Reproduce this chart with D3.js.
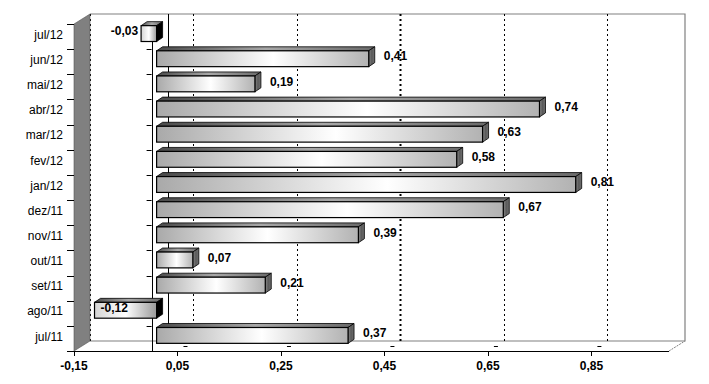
<!DOCTYPE html>
<html>
<head>
<meta charset="utf-8">
<script src="https://cdn.jsdelivr.net/npm/d3@7"></script>
<style>
  html, body { margin: 0; padding: 0; background: #fff; }
  svg { display: block; font-family: Arial, "Liberation Sans", sans-serif; }
</style>
</head>
<body>
<svg id="chart" width="709" height="384"></svg>
<script>
// ---- data ----
const categories = ["jul/11","ago/11","set/11","out/11","nov/11","dez/11","jan/12","fev/12","mar/12","abr/12","mai/12","jun/12","jul/12"];
const values     = [0.37, -0.12, 0.21, 0.07, 0.39, 0.67, 0.81, 0.58, 0.63, 0.74, 0.19, 0.41, -0.03];
const xTicks     = [-0.15, 0.05, 0.25, 0.45, 0.65, 0.85];
const xDomain    = [-0.15, 1.0];

(function () {
const fmt = v => v.toFixed(2).replace(".", ",");

const svg = d3.select("#chart");
const defs = svg.append("defs");

// layout
const pL = 74, pR = 669, pT = 24, pB = 351;
const depth = { dx: 16, dy: -10 };          // back wall offset
const barOff = { dx: 5, dy: -3 };            // bar front plane offset
const barDepth = { dx: 6, dy: -4 };          // bar thickness in depth

const x = d3.scaleLinear().domain(xDomain).range([pL, pR]);
const y = d3.scaleBand().domain(categories.slice().reverse()).range([pT, pB]).paddingInner(0).paddingOuter(0);
const bw = y.bandwidth();
const barH = bw * 0.63;

// gradients
function grad(id, stops) {
  const g = defs.append("linearGradient").attr("id", id)
    .attr("x1", "0%").attr("y1", "0%").attr("x2", "100%").attr("y2", "0%");
  stops.forEach(s => g.append("stop").attr("offset", s[0]).attr("stop-color", s[1]));
}
grad("front", [[0, "#a9a9a9"], [0.55, "#ffffff"], [1, "#b2b2b2"]]);
grad("frontNeg", [[0, "#d4d4d4"], [0.5, "#ffffff"], [1, "#9a9a9a"]]);
grad("topf", [[0, "#4a4a4a"], [0.5, "#a8a8a8"], [1, "#6a6a6a"]]);
grad("side", [[0, "#8a8a8a"], [0.5, "#5a5a5a"], [1, "#707070"]]);

// ---- back wall ----
const bx0 = pL + depth.dx, bx1 = pR + depth.dx, by0 = pT + depth.dy, by1 = pB + depth.dy;
svg.append("rect").attr("x", bx0).attr("y", by0).attr("width", bx1 - bx0).attr("height", by1 - by0)
  .attr("fill", "#ffffff");
svg.append("path")
  .attr("d", `M${bx0},${by0}H${bx1}V${by1}H${bx0}`)
  .attr("fill", "none").attr("stroke", "#808080").attr("stroke-width", 1.2);

// gridlines on back wall
svg.append("g").selectAll("line").data(xTicks).join("line")
  .attr("x1", d => Math.round(x(d) + depth.dx) + 0.5).attr("x2", d => Math.round(x(d) + depth.dx) + 0.5)
  .attr("y1", by0).attr("y2", by1)
  .attr("stroke", "#000").attr("stroke-width", d => d === 0.45 ? 2 : 1)
  .attr("stroke-dasharray", "2,3");

// back zero line
svg.append("line")
  .attr("x1", Math.round(x(0) + depth.dx) + 0.5).attr("x2", Math.round(x(0) + depth.dx) + 0.5)
  .attr("y1", by0).attr("y2", by1).attr("stroke", "#000");

// floor diagonal at right
svg.append("line").attr("x1", pR).attr("y1", pB).attr("x2", bx1).attr("y2", by1)
  .attr("stroke", "#808080").attr("stroke-dasharray", "2,1");

// floor small marks
svg.append("g").selectAll("line").data(xTicks.slice(1)).join("line")
  .attr("x1", d => x(d) + 6).attr("x2", d => x(d) + 10)
  .attr("y1", pB - 4.5).attr("y2", pB - 4.5)
  .attr("stroke", "#000");

// left wall
svg.append("path")
  .attr("d", `M${pL},${pT}L${bx0},${by0}L${bx0},${by1}L${pL},${pB}Z`)
  .attr("fill", "#808080").attr("stroke", "#555").attr("stroke-width", 0.6);

// front zero line
svg.append("line")
  .attr("x1", Math.round(x(0)) + 0.5).attr("x2", Math.round(x(0)) + 0.5)
  .attr("y1", pT).attr("y2", pB).attr("stroke", "#000");

// category boundary ticks
const bounds = d3.range(categories.length + 1).map(i => pT + i * bw);
svg.append("g").selectAll("line").data(bounds).join("line")
  .attr("x1", pL - 7).attr("x2", pL).attr("y1", d => Math.round(d) + 0.5).attr("y2", d => Math.round(d) + 0.5)
  .attr("stroke", "#000");
svg.append("g").selectAll("line").data(bounds.slice(1)).join("line")
  .attr("x1", x(0) - 5).attr("x2", x(0)).attr("y1", d => Math.round(d) + 0.5).attr("y2", d => Math.round(d) + 0.5)
  .attr("stroke", "#000");

// front axis
svg.append("line").attr("x1", pL).attr("x2", pR).attr("y1", pB + 0.5).attr("y2", pB + 0.5)
  .attr("stroke", "#000");
svg.append("g").selectAll("line").data(xTicks).join("line")
  .attr("x1", d => Math.round(x(d)) + 0.5).attr("x2", d => Math.round(x(d)) + 0.5)
  .attr("y1", pB).attr("y2", pB + 5).attr("stroke", "#000");

// x tick labels
svg.append("g").selectAll("text").data(xTicks).join("text")
  .attr("x", d => x(d)).attr("y", 366).attr("dy", "0.35em")
  .attr("text-anchor", "middle").attr("font-size", 12).attr("font-weight", "bold")
  .text(fmt);

// category labels
svg.append("g").selectAll("text").data(categories).join("text")
  .attr("x", 63).attr("y", d => y(d) + bw / 2 - 2).attr("dy", "0.35em")
  .attr("text-anchor", "end").attr("font-size", 12).attr("fill", "#000")
  .text(d => d);

// ---- bars ----
const data = categories.map((c, i) => ({ c, v: values[i] }));
const bars = svg.append("g").selectAll("g").data(data).join("g");

bars.each(function (d) {
  const g = d3.select(this);
  const xa = Math.min(x(0), x(d.v)) + barOff.dx;
  const xb = Math.max(x(0), x(d.v)) + barOff.dx;
  const yt = y(d.c) + barOff.dy + (bw - barH) / 2;
  const yb = yt + barH;
  const ddx = barDepth.dx, ddy = barDepth.dy;
  // top face
  g.append("path")
    .attr("d", `M${xa},${yt}L${xa + ddx},${yt + ddy}L${xb + ddx},${yt + ddy}L${xb},${yt}Z`)
    .attr("fill", "url(#topf)").attr("stroke", "#000").attr("stroke-width", 0.8);
  // right side face
  g.append("path")
    .attr("d", `M${xb},${yt}L${xb + ddx},${yt + ddy}L${xb + ddx},${yb + ddy}L${xb},${yb}Z`)
    .attr("fill", d.v < 0 ? "#000" : "url(#side)").attr("stroke", "#000").attr("stroke-width", 0.8);
  // front face
  g.append("rect")
    .attr("x", xa).attr("y", yt).attr("width", xb - xa).attr("height", barH)
    .attr("fill", d.v < 0 ? "url(#frontNeg)" : "url(#front)").attr("stroke", "#000").attr("stroke-width", 1.2);
});

// data labels
svg.append("g").selectAll("text").data(data).join("text")
  .attr("font-size", 12).attr("font-weight", "bold")
  .attr("y", d => y(d.c) + bw / 2 - 5.5).attr("dy", "0.35em")
  .each(function (d) {
    const t = d3.select(this);
    if (d.v >= 0) {
      t.attr("x", x(d.v) + 20).attr("text-anchor", "start");
    } else if (x(d.v) - x(xDomain[0]) < 40) {
      t.attr("x", x(d.v) + 11).attr("text-anchor", "start");
    } else {
      t.attr("x", x(d.v) + 2).attr("text-anchor", "end");
    }
  })
  .text(d => fmt(d.v));
})();
</script>
</body>
</html>
